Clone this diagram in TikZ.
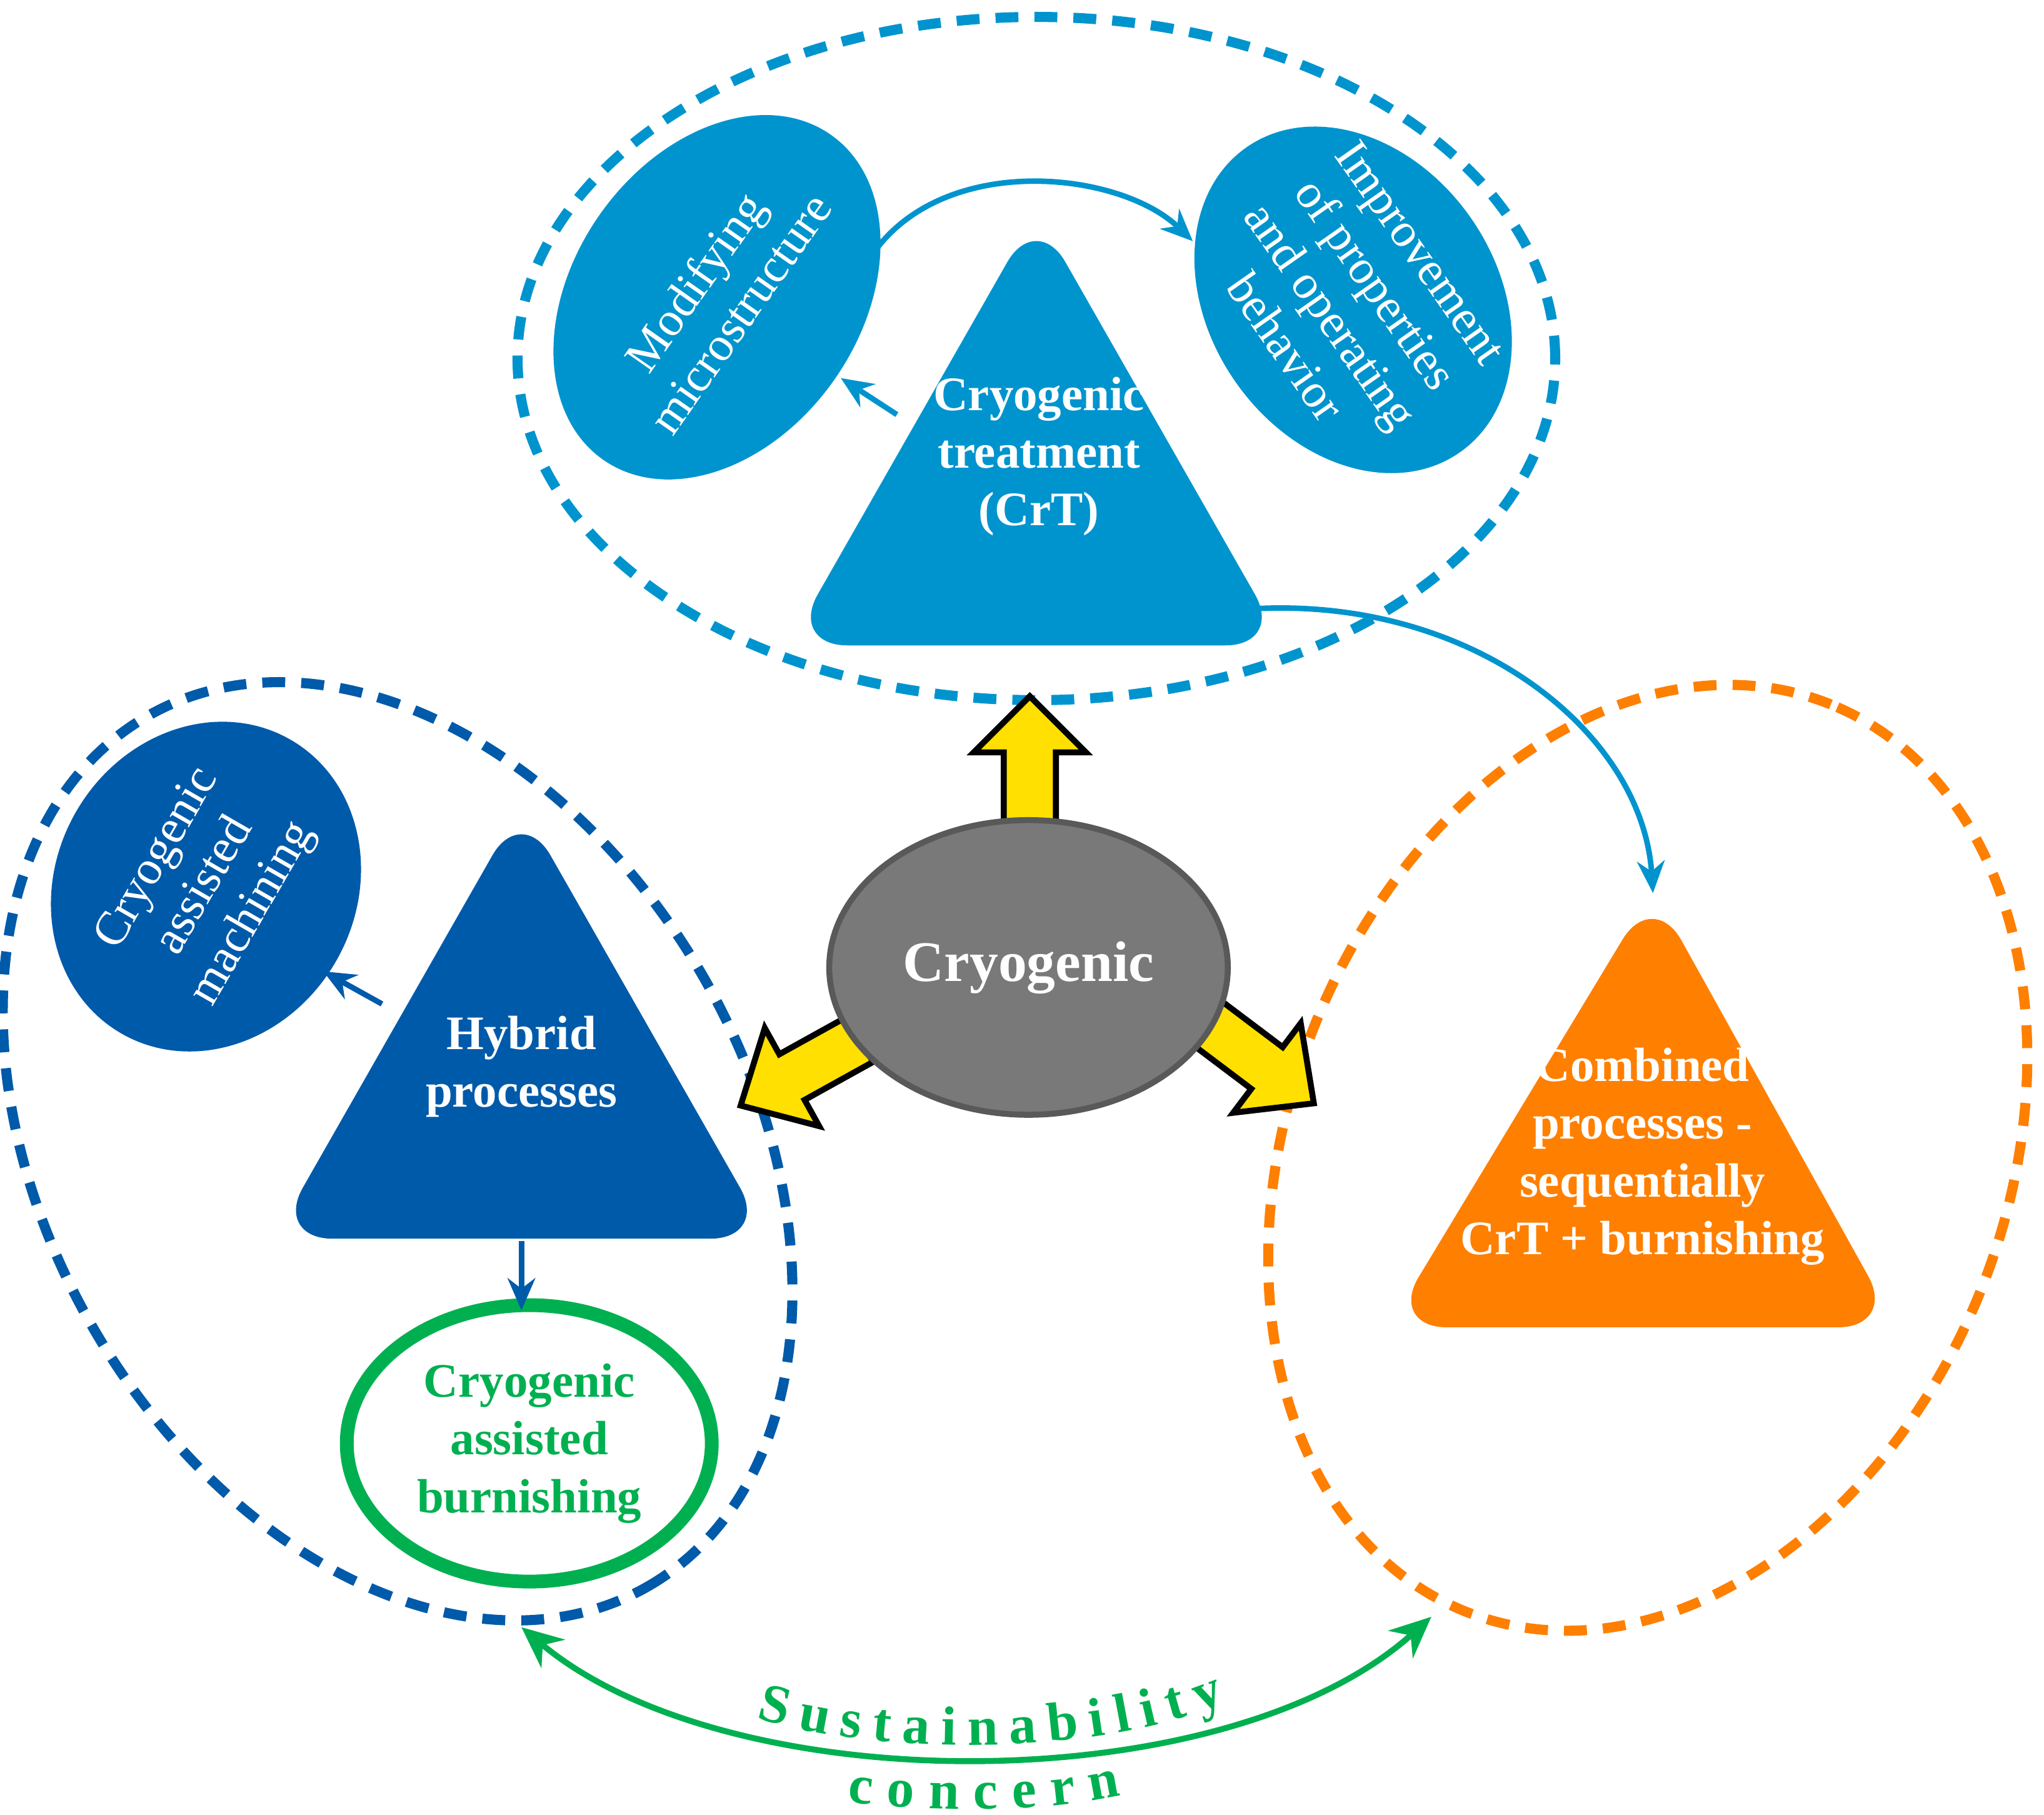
\documentclass[tikz,border=0pt]{standalone}
\usepackage{fontspec}
\setmainfont{Liberation Serif}
\usetikzlibrary{shapes.geometric,arrows.meta,decorations.text}
\definecolor{lblue}{HTML}{0094CE}
\definecolor{dblue}{HTML}{005AAA}
\definecolor{orng}{HTML}{FF7F00}
\definecolor{sgreen}{HTML}{00B050}
\definecolor{ylw}{HTML}{FFE000}
\tikzset{
  grpdash/.style={line width=2.2pt, dash pattern=on 5pt off 3.5pt},
  tri/.style={rounded corners=0.45cm},
  ttxt/.style={text=white, font=\fontsize{10.5}{12.6}\selectfont\bfseries, align=center},
  etxt/.style={ellipse, text=white, font=\fontsize{10.5}{12}\selectfont, align=center, inner sep=0pt},
  con/.style={line width=1.2pt, -{Stealth[length=7pt,width=6pt]}},
  yarr/.style={fill=ylw, draw=black, line width=1.3pt, line join=miter}
}
\begin{document}
\begin{tikzpicture}
\useasboundingbox[fill=white] (0,0) rectangle (15.68,13.92);
% dashed groups
\draw[grpdash, lblue] (7.95,11.17) ellipse [x radius=3.98, y radius=2.62];
\draw[grpdash, dblue, rotate around={-60:(3.05,5.09)}] (3.05,5.09) ellipse [x radius=3.85, y radius=2.7];
\draw[grpdash, orng, rotate around={68:(12.64,5.04)}] (12.64,5.04) ellipse [x radius=3.75, y radius=2.75];
% triangles
\fill[lblue, tri] (7.95,12.3) -- (9.85,8.97) -- (6.05,8.97) -- cycle;
\node[ttxt] (crt) at (7.97,10.42) {Cryogenic\\treatment\\(CrT)};
\fill[dblue, tri] (4.0,7.75) -- (5.9,4.42) -- (2.1,4.42) -- cycle;
\node[ttxt] (hyb) at (4.0,5.74) {Hybrid\\processes};
\fill[orng, tri] (12.68,7.1) -- (14.55,3.74) -- (10.65,3.74) -- cycle;
\node[ttxt] (comb) at (12.6,5.05) {Combined\\processes -\\sequentially\\CrT + burnishing};
% ellipses
\node[etxt, fill=lblue, minimum width=2.8cm, minimum height=2.2cm, rotate=55] (mod) at (5.50,11.64) {Modifying\\microstructure};
\node[etxt, fill=lblue, minimum width=2.8cm, minimum height=2.2cm, rotate=-55] (imp) at (10.38,11.62) {Improvement\\of properties\\and operating\\behavior};
\node[etxt, fill=dblue, minimum width=2.6cm, minimum height=2.3cm, rotate=60] (mach) at (1.58,7.12) {Cryogenic\\assisted\\machining};
\node[ellipse, draw=sgreen, line width=3pt, minimum width=2.8cm, minimum height=2.12cm, text=sgreen, align=center, font=\fontsize{10.5}{12.6}\selectfont\bfseries] (burn) at (4.06,2.85) {Cryogenic\\assisted\\burnishing};
% yellow arrows
\draw[yarr, shift={(7.9,7.55)}, rotate=90] (0,-0.2)--(0.6,-0.2)--(0.6,-0.43)--(1.03,0)--(0.6,0.43)--(0.6,0.2)--(0,0.2)--cycle;
\draw[yarr, shift={(6.6,5.95)}, rotate=209] (0,-0.2)--(0.6,-0.2)--(0.6,-0.43)--(1.05,0)--(0.6,0.43)--(0.6,0.2)--(0,0.2)--cycle;
\draw[yarr, shift={(9.2,6.12)}, rotate=-37] (0,-0.2)--(0.65,-0.2)--(0.65,-0.43)--(1.1,0)--(0.65,0.43)--(0.65,0.2)--(0,0.2)--cycle;
\node[ellipse, fill=gray!95!black, draw=black!65, line width=1.3pt, minimum width=2.82cm, minimum height=2.26cm, text=white, font=\fontsize{12.5}{15}\selectfont\bfseries] (cryo) at (7.89,6.50) {Cryogenic};
% connectors
\coordinate (m1) at (6.73,12.02); \coordinate (i1) at (9.15,12.07);
\coordinate (c1) at (6.88,10.74); \coordinate (m2) at (6.45,11.02);
\coordinate (c2) at (9.6,9.25); \coordinate (o1) at (12.68,7.07);
\coordinate (h1) at (2.93,6.22); \coordinate (a1) at (2.48,6.47);
\coordinate (h2) at (4.0,4.40); \coordinate (b1) at (4.0,3.87);
\coordinate (g1) at (4.0,1.44); \coordinate (g2) at (10.98,1.52);
\draw[con, lblue] (m1) .. controls (7.3,12.75) and (8.6,12.6) .. (i1);
\draw[con, lblue] (c1) -- (m2);
\draw[con, lblue] (c2) .. controls (11.3,9.35) and (12.6,8.3) .. (o1);
\draw[con, dblue] (h1) -- (a1);
\draw[con, dblue] (h2) -- (b1);
\draw[sgreen, line width=1.3pt, {Stealth[length=9pt,width=8pt]}-{Stealth[length=9pt,width=8pt]}] (g1) .. controls (5.6,0.1) and (9.4,0.1) .. (g2);
% curved label
\path[decorate, decoration={text along path, text align=fit to path,
  text={|\fontsize{12}{14}\selectfont\bfseries\color{sgreen}|Sustainability}}]
  (5.8,0.74) .. controls (6.8,0.45) and (8.4,0.45) .. (9.4,0.86);
\path[decorate, decoration={text along path, text align=fit to path,
  text={|\fontsize{12}{14}\selectfont\bfseries\color{sgreen}|concern}}]
  (6.5,0.1) .. controls (7.2,0.02) and (8.0,0.02) .. (8.6,0.15);
\end{tikzpicture}
\end{document}
